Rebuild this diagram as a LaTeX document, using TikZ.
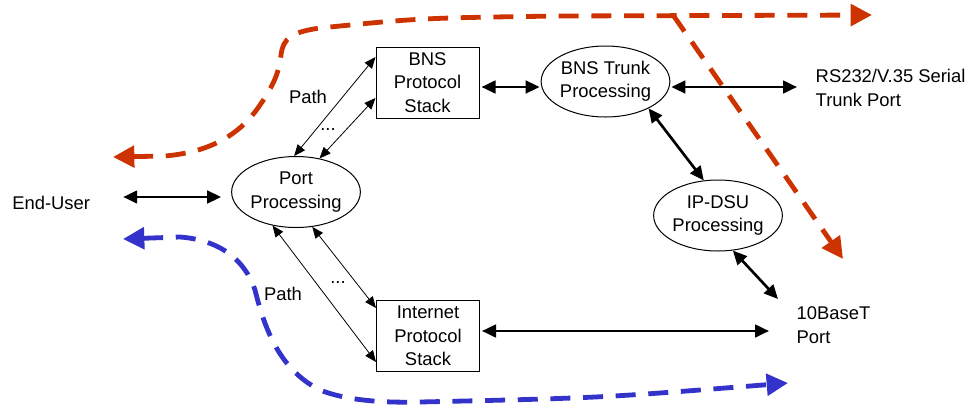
\documentclass[tikz,border=0pt]{standalone}
\usepackage{fontspec}
\setmainfont{Liberation Sans}
\usetikzlibrary{arrows.meta,calc,shapes.geometric}
\definecolor{pathred}{RGB}{204,51,0}
\definecolor{pathblue}{RGB}{51,51,204}
\tikzset{
  flowtip/.tip={Triangle[length=16pt,width=16pt]},
  bigtip/.tip={Triangle[length=10.5pt,width=9.5pt]},
  smalltip/.tip={Triangle[length=8.5pt,width=7pt]},
}
\begin{document}
\begin{tikzpicture}[x=0.75pt,y=-0.75pt,
  every node/.style={font=\fontsize{13.8}{17.6}\selectfont},
  proc/.style={ellipse,draw,line width=0.75pt,minimum width=91.5pt,minimum height=53.25pt,inner sep=0pt,align=center},
  stackbox/.style={rectangle,draw,line width=0.75pt,minimum width=77.25pt,minimum height=53.25pt,inner sep=0pt,align=center},
  portlabel/.style={align=left,anchor=west},
  link/.style={line width=2pt,bigtip-bigtip},
  thinlink/.style={line width=0.6pt,smalltip-smalltip},
  flow/.style={line width=3.6pt,dash pattern=on 15pt off 9.5pt},
  ]
\useasboundingbox (0,0) rectangle (972,404);

% processing stages and protocol stacks
\node[proc] (port) at (296,192) {Port\\Processing};
\node[stackbox] (bns) at (427.5,82.5) {BNS\\Protocol\\Stack};
\node[stackbox] (inet) at (428,336) {Internet\\Protocol\\Stack};
\node[proc] (trunk) at (605.5,81.5) {BNS Trunk\\Processing};
\node[proc] (ipdsu) at (718,215.5) {IP-DSU\\Processing};

% external interfaces
\node[anchor=west,inner sep=0pt] (eu) at (12,203) {End-User};
\node[portlabel] (rs) at (811,88) {RS232/V.35 Serial\\Trunk Port};
\node[portlabel] (ten) at (792,325) {10BaseT\\Port};

% traffic flows
\draw[pathred,flow,flowtip-flowtip] (113,157) -- (165,156)
  .. controls (210,152) and (240,135) .. (260,105)
  .. controls (276,82) and (279,70) .. (281,55)
  .. controls (283,38) and (292,32) .. (320,28)
  .. controls (420,18) .. (560,16) -- (872,15);
\draw[pathred,flow,-flowtip] (673,15) -- (843,259);
\draw[pathblue,flow,flowtip-flowtip] (123,239) -- (180,237)
  .. controls (220,240) and (245,260) .. (255,290)
  .. controls (265,330) and (280,370) .. (320,390)
  .. controls (345,400) and (380,403) .. (420,402)
  .. controls (600,398) .. (788,383);

% path connections between port processing and the stacks
\draw[thinlink] (port.93) -- ($(bns.west)+(0,-25.5)$);
\draw[thinlink] (port.55) -- ($(bns.west)+(0,15.5)$);
\draw[thinlink] (port.235) -- ($(inet.west)+(0,26)$);
\draw[thinlink] (port.295) -- ($(inet.west)+(0,-28)$);
\node at (308,97) {Path};
\node at (328,130) {...};
\node at (283,294) {Path};
\node at (338,283) {...};

% main links
\draw[link] ($(eu.east)+(33,-6)$) -- ($(port.west)+(-10,5)$);
\draw[link] ($(bns.east)+(2,4.5)$) -- ($(trunk.west)+(-1,5.5)$);
\draw[link] ($(trunk.east)+(1,5.5)$) -- ($(rs.west)+(-14,-1)$);
\draw[link] (trunk.328) -- (ipdsu.112);
\draw[link] (ipdsu.293) -- ($(ten.west)+(-14,-26)$);
\draw[link] ($(inet.east)+(2,-5)$) -- ($(ten.west)+(-23,6)$);
\end{tikzpicture}
\end{document}
